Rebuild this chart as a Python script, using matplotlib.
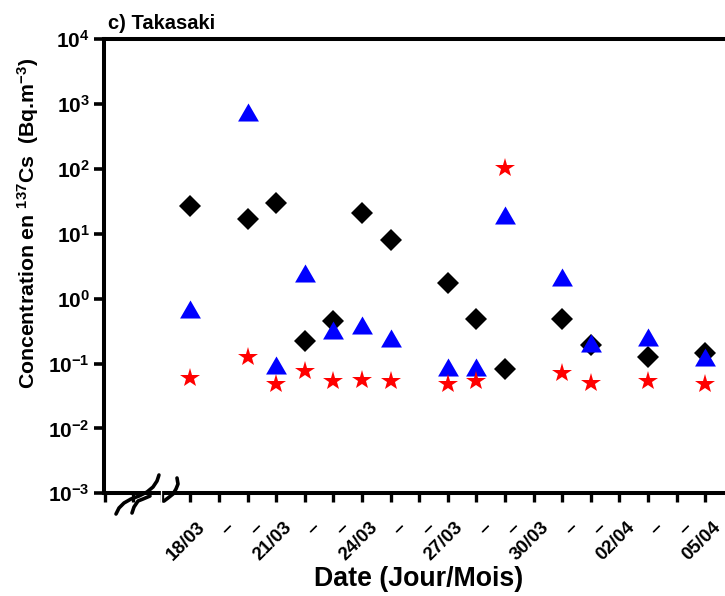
import matplotlib
matplotlib.use('Agg')
import matplotlib.pyplot as plt
import matplotlib.transforms as mtransforms
from matplotlib.path import Path
from matplotlib.ticker import FixedLocator, FixedFormatter, NullLocator

plt.rcParams['font.family'] = ['Liberation Sans', 'DejaVu Sans']
plt.rcParams['font.weight'] = 'bold'
plt.rcParams['mathtext.fontset'] = 'custom'
plt.rcParams['mathtext.rm'] = 'Liberation Sans:bold'
plt.rcParams['mathtext.bf'] = 'Liberation Sans:bold'
plt.rcParams['mathtext.it'] = 'Liberation Sans:bold'
plt.rcParams['mathtext.sf'] = 'Liberation Sans:bold'

# ---- data (day of March; 32 = 01/04) ----
days = [18, 20, 21, 22, 23, 24, 25, 27, 28, 29, 31, 32, 34, 36]
black_diamond = [27, 17, 30, 0.22, 0.46, 21, 8.0, 1.75, 0.49, 0.082, 0.49, 0.195, 0.125, 0.145]
blue_triangle = [0.70, 770, 0.094, 2.5, 0.33, 0.39, 0.25, 0.088, 0.088, 19.5, 2.2, 0.205, 0.26, 0.128]
red_star = [0.059, 0.128, 0.048, 0.077, 0.054, 0.056, 0.054, 0.048, 0.054, 102, 0.071, 0.051, 0.054, 0.048]

tick_days = list(range(15, 37))
tick_labels = ['', '', '',
               '18/03', '\u2013', '\u2013', '21/03', '\u2013', '\u2013', '24/03',
               '\u2013', '\u2013', '27/03', '\u2013', '\u2013', '30/03',
               '\u2013', '\u2013', '02/04', '\u2013', '\u2013', '05/04']
y_decades = [-3, -2, -1, 0, 1, 2, 3, 4]

W, H = 725, 596
fig = plt.figure(figsize=(W / 100, H / 100), dpi=100)
ax_left, ax_right, ax_top, ax_bot = 104.5, 725, 39.3, 493.3
ax = fig.add_axes([ax_left / W, 1 - ax_bot / H, (ax_right - ax_left) / W, (ax_bot - ax_top) / H])

px_per_day = 28.6
ax.set_xlim(15, 15 + (ax_right - ax_left) / px_per_day)
ax.set_yscale('log')
ax.set_ylim(1e-3, 1e4)

tri = Path([(-1, -0.866), (1, -0.866), (0, 0.866), (-1, -0.866)],
           [Path.MOVETO, Path.LINETO, Path.LINETO, Path.CLOSEPOLY])

ax.plot(days, black_diamond, linestyle='none', marker='D', ms=11, color='black',
        markeredgewidth=0, zorder=3)
ax.plot(days, blue_triangle, linestyle='none', marker=tri, ms=15, color='#0000ff',
        markeredgewidth=0, zorder=4)
ax.plot(days, red_star, linestyle='none', marker='*', ms=14.7, color='#ff0000',
        markeredgewidth=0, zorder=5)

# spines
for s in ['top', 'left', 'bottom']:
    ax.spines[s].set_linewidth(2.9)
    ax.spines[s].set_color('black')
ax.spines['right'].set_visible(False)

# y ticks
ax.yaxis.set_major_locator(FixedLocator([10.0 ** d for d in y_decades]))
ax.yaxis.set_major_formatter(FixedFormatter([r'$\mathbf{10^{%d}}$' % d for d in y_decades]))
ax.yaxis.set_minor_locator(NullLocator())
ax.tick_params(axis='y', which='major', direction='out', length=7.5, width=2.6,
               labelsize=15, pad=3)

# x ticks
ax.xaxis.set_major_locator(FixedLocator(tick_days))
ax.xaxis.set_major_formatter(FixedFormatter(tick_labels))
ax.tick_params(axis='x', which='major', direction='out', length=6.5, width=2.4,
               labelsize=13.5, pad=4)
offset = mtransforms.ScaledTranslation(7 / 100, -11 / 100, fig.dpi_scale_trans)
for lab in ax.get_xticklabels():
    lab.set_rotation(45)
    lab.set_ha('right')
    lab.set_va('top')
    lab.set_rotation_mode('anchor')
    lab.set_transform(lab.get_transform() + offset)

# axis-break squiggles (decoration, figure pixel coords)
def fx(x):
    return x / W
def fy(y):
    return 1 - y / H

squiggles = [
    [(116, 514), (119, 508), (124, 503), (131, 499), (139, 496), (147, 492), (153, 487), (157, 481), (159, 475)],
    [(132, 513), (134, 507), (138, 501), (143, 499), (150, 496)],
    [(164, 501), (168, 498), (173, 494), (176, 489), (178, 484), (177, 478)],
]
for sq in squiggles:
    fig.lines.append(plt.Line2D([fx(p[0]) for p in sq], [fy(p[1]) for p in sq],
                                transform=fig.transFigure, color='black', lw=2.6,
                                solid_capstyle='round', solid_joinstyle='round', zorder=10))
fig.lines.append(plt.Line2D([fx(160.5), fx(160.5)], [fy(470), fy(505)],
                            transform=fig.transFigure, color='white', lw=0.9, zorder=11))

# texts
fig.text(108 / W, 1 - 29 / H, 'c) Takasaki', fontsize=14.5, fontweight='bold',
         ha='left', va='baseline')
fig.text(28 / W, 1 - 223 / H,
         r'Concentration en $\mathbf{^{137}}$Cs  (Bq.m$\mathbf{^{-3}}$)',
         rotation=90, fontsize=15.3, fontweight='bold', ha='center', va='center')
fig.text(418.5 / W, 1 - 586 / H, 'Date (Jour/Mois)', fontsize=19.3, fontweight='bold',
         ha='center', va='baseline')

fig.savefig('out.png', dpi=100)
